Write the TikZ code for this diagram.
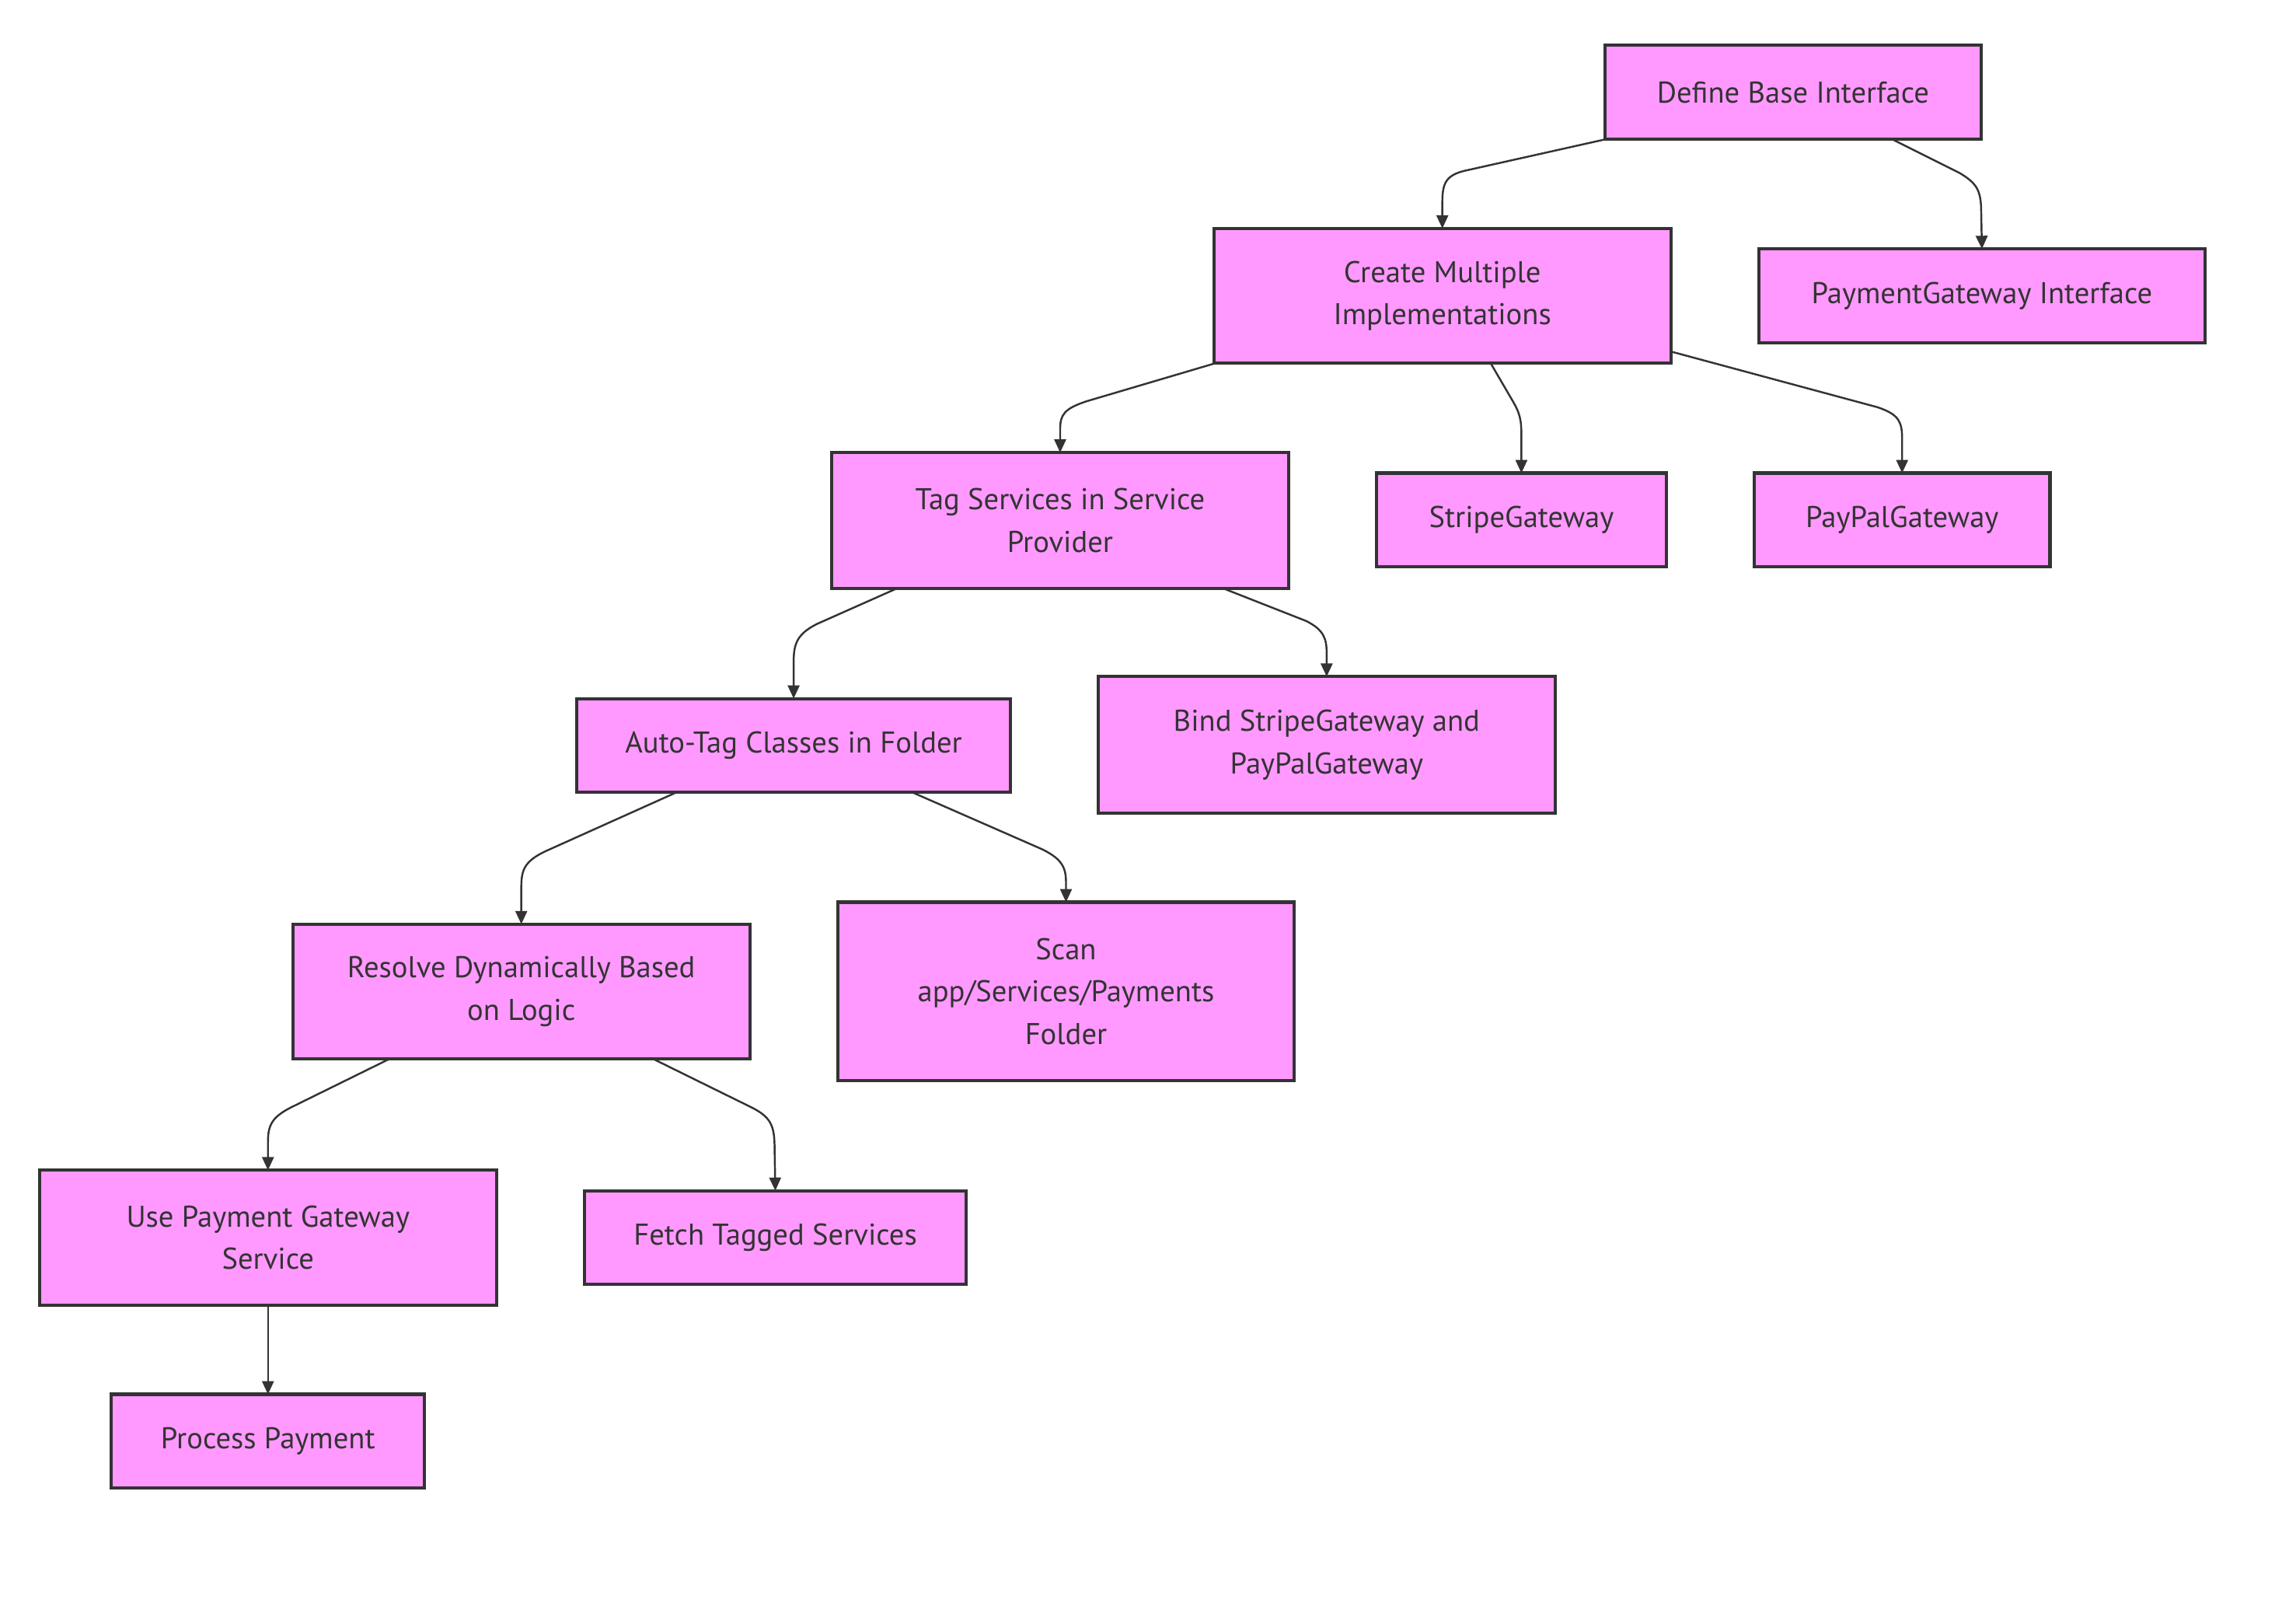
\documentclass[tikz,border=0pt]{standalone}
\usepackage{fontspec}
\setmainfont{PT Sans}
\usetikzlibrary{arrows.meta}
\definecolor{nodefill}{HTML}{FF99FF}
\definecolor{ink}{HTML}{333333}
\tikzset{
  box/.style={draw=ink, fill=nodefill, line width=2.2pt, inner sep=0pt, outer sep=0pt,
    align=center, text=ink, font=\fontsize{20.5}{29}\selectfont, anchor=center},
  edge/.style={draw=ink, line width=1.3pt, -{Triangle[length=9pt,width=8pt]}}
}
\begin{document}
\begin{tikzpicture}[x=1pt,y=-1pt]
\fill[white] (0,0) rectangle (1568,1099);
\useasboundingbox (0,0) rectangle (1568,1099);

\node[box, minimum width=257pt, minimum height=64pt] (A) at (1224.5,63) {Define Base Interface};
\node[box, minimum width=312pt, minimum height=92pt] (B) at (985,202) {Create Multiple\\Implementations};
\node[box, minimum width=305pt, minimum height=64pt] (C) at (1353.5,202) {PaymentGateway Interface};
\node[box, minimum width=312pt, minimum height=93pt] (D) at (724,355.5) {Tag Services in Service\\Provider};
\node[box, minimum width=198pt, minimum height=64pt] (E) at (1039,355) {StripeGateway};
\node[box, minimum width=202pt, minimum height=64pt] (F) at (1299,355) {PayPalGateway};
\node[box, minimum width=296pt, minimum height=64pt] (G) at (542,509) {Auto-Tag Classes in Folder};
\node[box, minimum width=312pt, minimum height=93pt] (H) at (906,508.5) {Bind StripeGateway and\\PayPalGateway};
\node[box, minimum width=312pt, minimum height=92pt] (I) at (356,677) {Resolve Dynamically Based\\on Logic};
\node[box, minimum width=312pt, minimum height=122pt] (J) at (728,677) {Scan\\app/Services/Payments\\Folder};
\node[box, minimum width=312pt, minimum height=92pt] (K) at (183,845) {Use Payment Gateway\\Service};
\node[box, minimum width=261pt, minimum height=64pt] (L) at (529.5,845) {Fetch Tagged Services};
\node[box, minimum width=214pt, minimum height=64pt] (M) at (183,984) {Process Payment};

% edges
\draw[edge] ([xshift=1pt]A.south west) -- (1003,116) .. controls (988,119) and (985,124) .. (985,138) -- (B.north);
\draw[edge] ([xshift=196pt]A.south west) -- (1338,118) .. controls (1350,125) and (1353,130) .. (1353,145) -- (C.north);
\draw[edge] ([xshift=1pt]B.south west) -- (742,274) .. controls (727,279) and (724,283) .. (724,293) -- (D.north);
\draw[edge] ([xshift=189pt]B.south west) -- (1032,272) .. controls (1038,282) and (1039,286) .. (1039,298) -- (E.north);
\draw[edge] ([yshift=8pt]B.south east) -- (1282,278) .. controls (1297,283) and (1299,288) .. (1299,300) -- (F.north);
\draw[edge] ([xshift=44pt]D.south west) -- (558,426) .. controls (544,433) and (542,440) .. (542,452) -- (G.north);
\draw[edge] ([xshift=268pt]D.south west) -- (892,424) .. controls (904,430) and (906,436) .. (906,446) -- (H.north);
\draw[edge] ([xshift=68pt]G.south west) -- (373,581) .. controls (358,588) and (356,594) .. (356,606) -- (I.north);
\draw[edge] ([xshift=229pt]G.south west) -- (712,580) .. controls (726,587) and (728,593) .. (728,603) -- (J.north);
\draw[edge] ([xshift=66pt]I.south west) -- (199,756) .. controls (185,763) and (183,769) .. (183,780) -- (K.north);
\draw[edge] ([xshift=246pt]I.south west) -- (513,756) .. controls (527,763) and (529,769) .. (529,785) -- (L.north);
\draw[edge] (K.south) -- (M.north);
\end{tikzpicture}
\end{document}
